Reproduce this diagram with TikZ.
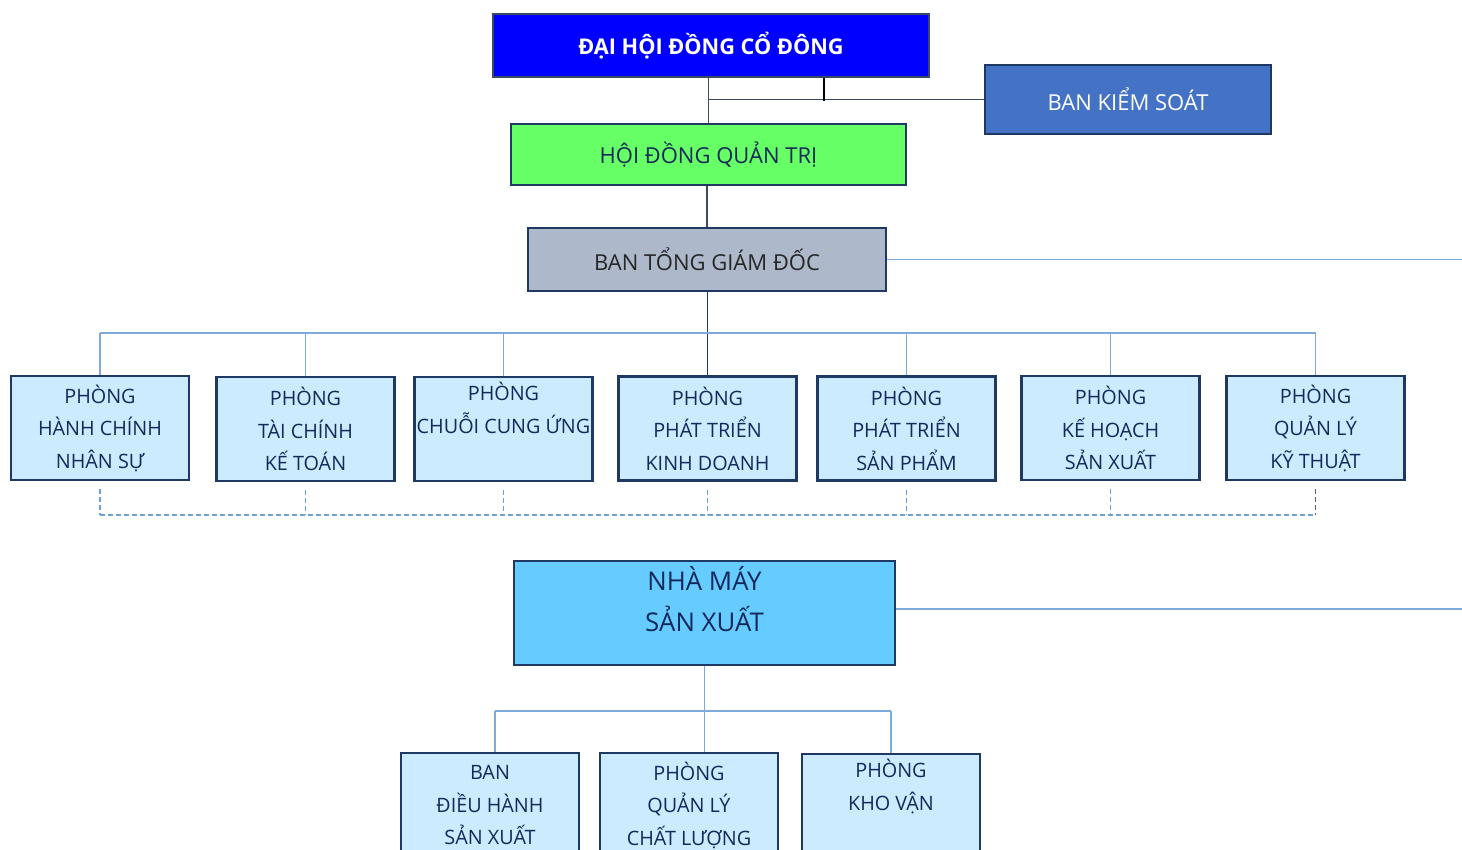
\documentclass[tikz,border=0pt]{standalone}
\usepackage{fontspec}
\setmainfont{Open Sans}
\usetikzlibrary{calc}
\definecolor{navy}{HTML}{203864}
\definecolor{txtnavy}{HTML}{14285A}
\definecolor{lineblue}{HTML}{7EAADB}
\definecolor{dashblue}{HTML}{6A9FD8}
\definecolor{lightfill}{HTML}{CCEBFF}
\definecolor{kiemsoat}{HTML}{4472C4}
\definecolor{hdqtfill}{HTML}{66FF66}
\definecolor{tgdfill}{HTML}{ADB9CA}
\definecolor{nmfill}{HTML}{66CCFF}
\definecolor{topborder}{HTML}{3A4A66}
\tikzset{
  x=1pt, y=-1pt,
  topbox/.style={draw=navy, line width=2.4pt, inner sep=0pt, align=center,
    font=\fontsize{22}{26}\selectfont},
  deptbox/.style={draw=navy, line width=2.4pt, fill=lightfill, inner sep=0pt,
    minimum width=178pt, minimum height=104pt, align=center, text=txtnavy,
    font=\fontsize{19.8}{32.5}\selectfont},
  solidlink/.style={draw=lineblue, line width=1.2pt},
  darklink/.style={draw=navy, line width=1.2pt},
  dashlink/.style={draw=dashblue, line width=1.2pt, dash pattern=on 5pt off 3pt},
}
\begin{document}
\begin{tikzpicture}
\useasboundingbox (0,0) rectangle (1462,850);
\clip (0,0) rectangle (1462,850);
% top boxes
\node[topbox, draw=topborder, fill=blue, text=white, minimum width=436pt, minimum height=63pt,
  font=\fontsize{21.7}{26}\selectfont\bfseries] (dhdcd) at (711,45.5) {ĐẠI HỘI ĐỒNG CỔ ĐÔNG};
\node[topbox, fill=kiemsoat, text=white, minimum width=286pt, minimum height=69pt] (bks) at (1128,99.5) {BAN KIỂM SOÁT};
\node[topbox, fill=hdqtfill, text=txtnavy, minimum width=395pt, minimum height=61pt] (hdqt) at (708.5,154.5) {HỘI ĐỒNG QUẢN TRỊ};
\node[topbox, fill=tgdfill, text=black!85, minimum width=358pt, minimum height=63pt] (tgd) at (707,259.5) {BAN TỔNG GIÁM ĐỐC};
% department row
\node[deptbox] (p1) at (100,428) {PHÒNG\\HÀNH CHÍNH\\NHÂN SỰ};
\node[deptbox] (p2) at (305.5,429) {PHÒNG\\TÀI CHÍNH\\KẾ TOÁN};
\node[deptbox] (p3) at (503.5,429) {PHÒNG\\CHUỖI CUNG ỨNG\\\strut};
\node[deptbox] (p4) at (707.5,428.5) {PHÒNG\\PHÁT TRIỂN\\KINH DOANH};
\node[deptbox] (p5) at (906.5,428.5) {PHÒNG\\PHÁT TRIỂN\\SẢN PHẨM};
\node[deptbox] (p6) at (1110.5,428) {PHÒNG\\KẾ HOẠCH\\SẢN XUẤT};
\node[deptbox] (p7) at (1315.5,428) {PHÒNG\\QUẢN LÝ\\KỸ THUẬT};
% factory
\node[deptbox, fill=nmfill, minimum width=381pt, minimum height=104pt,
  font=\fontsize{25.8}{41}\selectfont] (nm) at (704.5,613) {NHÀ MÁY\\SẢN XUẤT\\[-26pt]\strut};
% bottom row
\node[deptbox] (b1) at (490,805) {BAN\\ĐIỀU HÀNH\\SẢN XUẤT};
\node[deptbox] (b2) at (689,805) {PHÒNG\\QUẢN LÝ\\CHẤT LƯỢNG};
\node[deptbox] (b3) at (891,806) {PHÒNG\\KHO VẬN\\\strut};
% coordinates
\coordinate (tick) at (824,101);
\coordinate (tgdR) at (1462,259.5);
\coordinate (bus) at (0,333);
\coordinate (dbus) at (0,515);
\coordinate (nmR) at (1462,609);
\coordinate (bus2) at (0,711);
% top connectors
\draw[draw=topborder, line width=1.2pt] (hdqt.north |- dhdcd.south) -- (hdqt.north);
\draw[draw=topborder, line width=1.2pt] (hdqt.north |- bks.west) -- (bks.west);
\draw[draw=black, line width=1.8pt] (tick |- dhdcd.south) -- (tick);
\draw[darklink, draw=topborder] (tgd.north |- hdqt.south) -- (tgd.north);
\draw[solidlink] (tgd.east) -- (tgdR);
\draw[darklink] (tgd.south -| p4.north) -- (p4.north);
% department bus
\draw[solidlink] (p1.north |- bus) -- (p7.north |- bus);
\foreach \n in {p1,p2,p3,p5,p6,p7}{
  \draw[solidlink] (\n.north |- bus) -- (\n.north);
}
% dashed bus
\draw[dashlink] (p1.south |- dbus) -- (p7.south |- dbus);
\foreach \n in {p1,p2,p3,p4,p5,p6}{
  \draw[dashlink] ($(\n.south)+(0,8)$) -- (\n.south |- dbus);
}
\draw[dashlink, draw=navy!80] ($(p7.south)+(0,8)$) -- (p7.south |- dbus);
% factory connectors
\draw[solidlink] (nm.east |- nmR) -- (nmR);
\draw[solidlink] (nm.south) -- (nm.south |- b2.north);
\draw[solidlink] ($(b1.north |- bus2)+(5,0)$) -- (b3.north |- bus2);
\draw[solidlink] ($(b1.north |- bus2)+(5,0)$) -- ($(b1.north)+(5,0)$);
\draw[solidlink] (b3.north |- bus2) -- (b3.north);
\end{tikzpicture}
\end{document}
